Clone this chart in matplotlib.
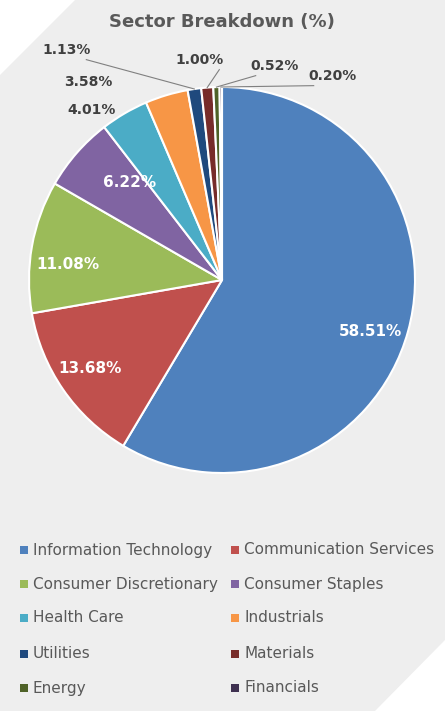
import matplotlib
matplotlib.use("Agg")
import matplotlib.pyplot as plt
from matplotlib.patches import Polygon, Rectangle
import numpy as np

sectors = ["Information Technology", "Communication Services", "Consumer Discretionary",
           "Consumer Staples", "Health Care", "Industrials", "Utilities", "Materials",
           "Energy", "Financials"]
values = [58.51, 13.68, 11.08, 6.22, 4.01, 3.58, 1.13, 1.00, 0.52, 0.20]
colors = ["#4F81BD", "#C0504D", "#9BBB59", "#8064A2", "#4BACC6", "#F79646",
          "#1F497D", "#772C2A", "#4F6228", "#3F3151"]
label_px = [(370, 332), (90, 369), (68, 265), (130, 183), (92, 110), (88, 82),
            (67, 50), (200, 60), (275, 66), (333, 76)]
inside = [True, True, True, True, False, False, False, False, False, False]
leader = [False]*6 + [True]*4

W, H = 445, 711
fig = plt.figure(figsize=(W/100, H/100), dpi=100)
bg = fig.add_axes([0, 0, 1, 1])
bg.set_xlim(0, W); bg.set_ylim(H, 0); bg.axis("off")
bg.add_patch(Polygon([(75, 0), (W, 0), (W, 640), (375, H), (0, H), (0, 75)],
                     closed=True, color="#EEEEEE", lw=0))

cx, cy, R = 222, 280, 193
ax = fig.add_axes([0, 0, 1, 1])
wedges, _ = ax.pie(values, colors=colors, startangle=90, counterclock=False,
                   radius=1, wedgeprops=dict(edgecolor="white", linewidth=1.5))
ax.set_aspect("auto")
ax.set_xlim((0-cx)/R, (W-cx)/R); ax.set_ylim((cy-H)/R, cy/R); ax.axis("off")

for i, (w, v) in enumerate(zip(wedges, values)):
    px, py = label_px[i]
    x, y = (px-cx)/R, (cy-py)/R
    if inside[i]:
        ax.text(x, y, f"{v:.2f}%", color="white", fontsize=11, fontweight="bold",
                ha="center", va="center")
    else:
        ax.text(x, y, f"{v:.2f}%", color="#404040", fontsize=10, fontweight="bold",
                ha="center", va="center")
        if leader[i]:
            a = np.deg2rad((w.theta1 + w.theta2)/2)
            ex, ey = np.cos(a), np.sin(a)
            ax.plot([ex, x + (0.1 if x < ex else -0.1)], [ey, y - 0.05], color="#808080", lw=0.8)

fig.text(cx/W, 1-22/H, "Sector Breakdown (%)", ha="center", va="center",
         fontsize=13, fontweight="bold", color="#595959")

rows = [550, 584, 618, 654, 688]
cols = [(20, 33), (231, 244)]
for i, (name, c) in enumerate(zip(sectors, colors)):
    r, k = divmod(i, 2)
    mx, tx = cols[k]
    y = rows[r]
    bg.add_patch(Rectangle((mx, y-4), 8, 8, color=c, lw=0))
    bg.text(tx, y, name, fontsize=11, color="#595959", va="center", ha="left")

fig.savefig("out.png", dpi=100)
